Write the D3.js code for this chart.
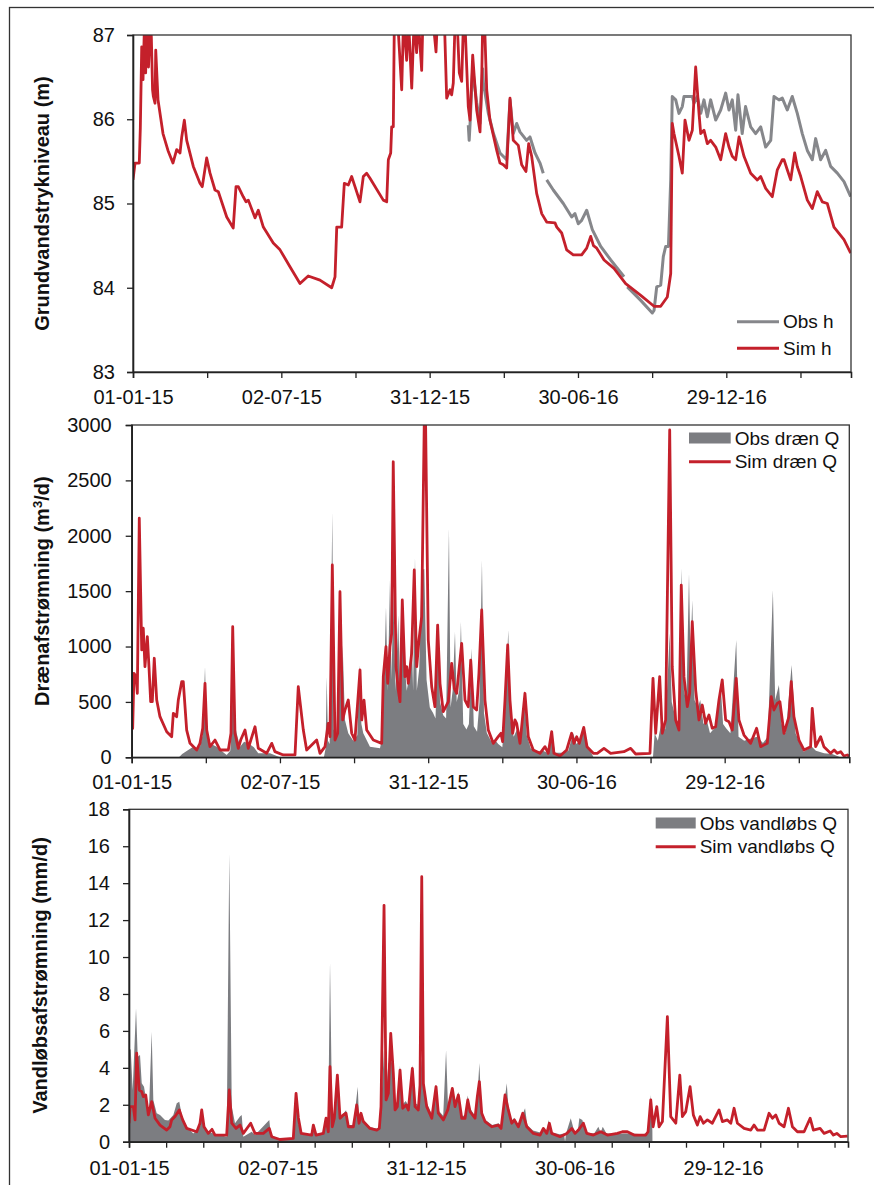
<!DOCTYPE html>
<html><head><meta charset="utf-8">
<script src="https://cdn.jsdelivr.net/npm/d3@7"></script>
<style>
body{margin:0;background:#fff}
svg{display:block}
text{font-family:"Liberation Sans",Arial,Helvetica,sans-serif;fill:#111}
</style>
</head><body>
<svg id="c" width="874" height="1185"></svg>
<script>
// ---- DATA (day = days since 01-01-2015) ----
const xLabelDays = [0, 182, 364, 546, 728];
const xEndDay = 881;

// Panel 1: groundwater head (m)
const hTicks = [83, 84, 85, 86, 87];
const hObs = [[411.4,85.93],[412.5,85.75],[413.5,85.93],[416.8,86.6],[421.7,86.2],[425.8,85.95],[429,86.6],[430,86.43],[436,86.07],[442.3,85.83],[450.3,85.6],[458.5,85.52],[462.6,86.23],[466.6,85.83],[470.8,85.95],[474.8,85.85],[483,85.75],[487.1,85.79],[493.3,85.6],[499.4,85.48],[503.4,85.36],[505,null],[507.6,85.28],[515.7,85.16],[528,85.0],[538.3,84.84],[542.3,84.88],[546.4,84.76],[550.5,84.8],[556.7,84.92],[563.6,84.69],[573.9,84.49],[586.2,84.33],[602.5,84.13],[604.5,null],[606.5,84.01],[623,83.85],[637.2,83.7],[639.3,83.73],[642.6,84.01],[647.5,84.03],[650.7,84.37],[653.6,84.49],[657,84.49],[659.8,85.28],[661.7,86.27],[665.9,86.23],[669.9,86.07],[674,86.15],[676.1,86.27],[682.2,86.27],[686.3,86.27],[688.3,86.19],[692.4,86.27],[696.6,86.07],[700.6,86.23],[704.7,86.03],[708.8,86.23],[715,85.99],[721.1,86.11],[727.2,86.31],[731.3,86.11],[735.3,86.23],[739.5,85.87],[742.3,86.29],[747.5,85.83],[751.6,86.15],[757.9,85.91],[764,85.83],[770.2,85.91],[776.3,85.67],[782.5,85.75],[786.5,86.27],[792.6,86.23],[796.7,86.25],[802.8,86.11],[808.9,86.27],[815.1,86.07],[821.2,85.83],[827.4,85.63],[833.5,85.52],[837.6,85.77],[843.7,85.52],[849.9,85.63],[856,85.44],[864.2,85.36],[872.4,85.26],[880.6,85.08]];
const hSim = [[0,85.28],[2.5,85.48],[7.7,85.48],[9,85.9],[10.7,86.86],[12.3,86.47],[14,87.1],[15.5,86.55],[17,87.1],[19,86.62],[21,87.1],[22.5,86.98],[24,86.35],[25,86.27],[27,86.19],[27.9,86.82],[30.7,86.23],[36.8,85.83],[42.9,85.63],[49,85.48],[53.6,85.64],[57.7,85.6],[59.8,85.79],[63,85.99],[65.9,85.75],[74,85.44],[82.2,85.24],[85,85.2],[90.4,85.54],[94.5,85.36],[100.6,85.16],[104.7,85.14],[115,84.84],[123,84.71],[126.4,85.2],[129.2,85.2],[135.3,85.08],[138.7,85.02],[141.5,85.04],[149.7,84.83],[153.7,84.92],[159.9,84.72],[172.1,84.53],[180.4,84.45],[192.6,84.25],[204.9,84.05],[215,84.14],[229.4,84.09],[243.8,84.0],[247.9,84.13],[250,84.72],[256,84.72],[259.3,85.24],[264.2,85.22],[268.3,85.32],[272.4,85.2],[278.5,85.02],[282.6,85.32],[286.7,85.36],[290.8,85.3],[307.1,85.04],[311.3,85.02],[313.3,85.52],[316.2,85.6],[317.4,85.91],[319.4,85.91],[320.6,87.1],[324,87.3],[329.7,86.35],[332,87.2],[335.8,86.7],[338,87.2],[342,86.37],[345,87.2],[348,86.79],[350,87.2],[354.2,86.58],[356,87.3],[365,87.5],[371.8,86.8],[374,87.3],[382,87.2],[384.9,86.25],[389,86.35],[391,86.29],[393,86.43],[395,87.1],[398,87.1],[400.4,86.55],[403.3,86.45],[405.3,87.1],[407.5,87.1],[411.4,86.15],[413.5,85.99],[416.8,86.76],[421.7,86.11],[425.8,85.85],[427.9,86.5],[429,87.1],[431.5,87.1],[434,86.35],[438,85.99],[446.3,85.63],[450.3,85.48],[454.4,85.46],[458.5,85.42],[462.6,86.25],[466.6,85.75],[472.8,85.69],[476.9,85.46],[482.2,85.38],[485.5,85.71],[489.2,85.56],[495.3,85.12],[501.5,84.88],[507.6,84.78],[517.8,84.77],[520,84.72],[526,84.65],[532.1,84.45],[540.2,84.39],[550.5,84.39],[556.7,84.47],[561.6,84.61],[565,84.5],[569,84.47],[578,84.33],[590.2,84.23],[604.5,84.05],[623,83.91],[639.3,83.78],[647.5,83.78],[655.6,83.89],[659.8,84.17],[661.7,85.95],[663.8,85.83],[669.9,85.56],[674,85.36],[677.3,85.99],[682.2,85.75],[686.3,85.87],[690.4,86.62],[694.5,86.07],[696.6,85.83],[700.6,85.87],[704.7,85.71],[708.8,85.75],[715,85.67],[721.1,85.52],[727.2,85.83],[731.3,85.67],[735.3,85.56],[739.5,85.52],[743.6,85.79],[749.7,85.56],[757.9,85.36],[766,85.28],[770.2,85.32],[776.3,85.18],[784.4,85.08],[790.6,85.4],[796.7,85.52],[798.8,85.52],[802.8,85.4],[807,85.28],[811.9,85.6],[815.1,85.44],[819.3,85.32],[827.4,85.04],[833.5,84.94],[839.6,85.14],[845.8,85.02],[851.9,85.0],[860.1,84.72],[872.4,84.57],[880.6,84.41]];

// Panel 2: drain flow (m3/d)
const drainTicks = [0, 500, 1000, 1500, 2000, 2500, 3000];
const drainObs = [[0,0],[58,0],[62,30],[68,60],[75.6,96],[80,80],[83.8,96],[87,200],[90,818],[92,250],[94,126],[100,110],[104.3,96],[110,60],[116.6,21],[121,60],[123,300],[124.7,1194],[126.5,300],[128.9,217],[133,96],[138,140],[143.1,126],[150,90],[155.4,36],[169.8,36],[182,0],[236,0],[238,80],[239.4,728],[241,150],[243,120],[246.3,2217],[248,250],[252,200],[255.7,1540],[257.5,600],[259,1014],[261.8,337],[265.9,217],[272,150],[277,200],[279.4,833],[282,300],[284.3,217],[292.5,96],[304.8,81],[307,156],[310,728],[312.2,1360],[314.3,600],[317.1,1600],[319,700],[321.1,1500],[324,600],[327.3,1285],[329.5,500],[332.2,1100],[335.5,818],[337.6,600],[340,700],[343.7,1104],[345.5,600],[347.8,1811],[350,600],[353,800],[356,1691],[359.2,1700],[362,700],[366,450],[370,400],[373,350],[376.4,1224],[378.5,500],[382.5,380],[386,350],[389.5,2067],[391.5,450],[394,600],[396.9,1134],[399,500],[402,600],[404.2,1224],[407,300],[411,250],[414,300],[417.4,984],[420,280],[424,230],[427,500],[430,1781],[432.5,400],[436,220],[441,150],[446,156],[450,120],[455,90],[458.3,400],[462.3,1149],[465,337],[469,186],[473,250],[478,200],[482.8,517],[485,200],[490,80],[500,50],[505,60],[510,40],[515.6,217],[520,40],[530,40],[536,60],[542,217],[546,120],[550,150],[555,262],[560,100],[567,0],[640,0],[642,217],[646,150],[650,300],[655,250],[660.5,1120],[663,500],[667.8,350],[671.9,300],[675.2,1706],[678,600],[681,500],[684.2,1661],[686,900],[688.2,1420],[691,517],[695,450],[698,517],[702,300],[706,337],[710,217],[714,250],[718,276],[723,668],[726,300],[730,260],[735,217],[742.2,1059],[745,186],[752,150],[760,170],[768,186],[775,130],[781,186],[787.2,1510],[790,517],[794.6,653],[798,300],[803,217],[810.2,833],[815.1,217],[820,130],[825,50],[835,96],[840,60],[850,36],[860,30],[870,0],[881,0]];
const drainSim = [[0,250],[1.2,262],[2.8,758],[5.3,728],[6.9,578],[9.3,2158],[12.3,969],[14.2,1165],[16.3,818],[19.2,1089],[21.2,818],[23.3,502],[25.3,502],[27.7,894],[30.7,517],[34.7,367],[43,231],[49.1,186],[51.1,397],[55.2,367],[57.2,517],[61.4,683],[63.3,683],[67.5,246],[71.6,126],[79.8,66],[83.8,126],[87.2,262],[90,668],[92.1,246],[96.1,96],[102.3,156],[108.4,66],[118.6,66],[121.9,217],[124,1179],[126.8,217],[130.9,81],[133.8,156],[139.1,246],[143.1,81],[151.4,276],[155.4,81],[165.7,36],[171.9,126],[175.9,51],[186.1,21],[200.5,21],[204.5,637],[210.7,246],[214.8,66],[227.1,156],[231.2,36],[237.3,96],[241.3,307],[243.4,186],[246.3,1736],[249.6,156],[252.9,217],[255.7,1495],[259,337],[261.8,427],[265.9,517],[270.1,217],[274.1,156],[280.3,788],[282.4,337],[285.2,517],[288.5,246],[296.6,156],[306.9,126],[308.9,728],[312.2,999],[314.3,668],[317.1,999],[319.2,1120],[321.1,2668],[324.5,818],[327.3,607],[329.4,502],[332.2,1420],[335.5,728],[337.6,818],[339.6,668],[343.7,939],[346.9,1691],[349.9,818],[352.7,1059],[356,1269],[359.5,3200],[360.5,3200],[364.1,1059],[368.3,637],[372.3,457],[375.6,1194],[378.5,668],[382.5,412],[388.7,502],[392.8,848],[396,623],[399,578],[402.2,818],[405.1,1029],[409.2,517],[413.2,457],[416.2,878],[419.4,457],[423.5,427],[426.3,758],[429.7,1330],[433.7,517],[437.8,246],[443.9,126],[450,186],[453.3,217],[455.4,141],[458.3,517],[461.6,1014],[464.4,517],[467.7,217],[470.5,337],[472.6,307],[476.7,126],[482.8,578],[486.9,186],[493,66],[501.2,36],[507.4,96],[511.4,36],[515.6,231],[518.4,36],[525.8,12],[534,66],[540.1,217],[543,126],[546.3,186],[549.5,126],[555,270],[559,96],[566.7,36],[571.5,36],[579.8,81],[588,36],[604.3,51],[612.6,81],[618.7,30],[636.3,36],[640,713],[643.3,217],[648.2,728],[651.4,217],[655.5,337],[660.5,2955],[663.6,818],[667.8,337],[671.9,246],[674.7,1555],[678,728],[682.1,457],[685,578],[688.2,1224],[692.4,607],[696.4,337],[700.5,472],[704.6,307],[708.7,382],[712.7,262],[716.9,276],[721,517],[725,698],[729.2,337],[733.3,322],[737.3,246],[742.2,713],[745.5,337],[751.7,201],[759.9,126],[767.2,262],[772.2,96],[780.3,126],[785.2,547],[788.5,427],[792.5,487],[795.8,502],[800.8,217],[806.9,367],[809.7,683],[813,367],[819.2,156],[825.3,66],[833.5,96],[835.5,442],[839.7,96],[845.8,186],[849.8,96],[858.1,36],[862.4,66],[866.2,36],[870.4,51],[874.4,12],[878.5,21],[881,10]];

// Panel 3: stream flow (mm/d)
const streamTicks = [0, 2, 4, 6, 8, 10, 12, 14, 16, 18];
const streamObs = [[0,4.97],[2.1,5.0],[4.5,2.8],[8.6,7.22],[10.7,4.6],[13.5,4.69],[15.6,3.16],[18.4,2.98],[21.7,2.08],[24.5,1.72],[27.8,5.96],[29.8,2.26],[33.9,1.54],[38,1.45],[44.1,1.18],[48.2,1.15],[54.3,1.45],[58.5,2.08],[61.6,2.17],[64.6,1.45],[70.7,0.81],[78.8,0.45],[87,0.81],[89.8,1.54],[93.1,0.63],[103.3,0.45],[119.7,0.27],[122.9,15.6],[125.9,1.9],[129.9,1.0],[136,1.36],[138.1,1.45],[140.1,0.27],[150.4,0.54],[154.4,0.36],[171.9,1.18],[173.7,0.4],[181,0.18],[201.3,0.18],[204.3,2.62],[207.5,1.0],[211,0.45],[224,0.4],[226,0.8],[229,0.4],[238,0.5],[241,1.3],[244,0.6],[246.3,9.75],[249,1.0],[252,1.4],[254.5,3.25],[258.6,1.4],[262,1.5],[266,1.7],[269,0.9],[275,0.9],[280.3,2.98],[282,1.1],[284,1.6],[287,1.2],[295,0.8],[304,0.7],[307,0.8],[309,2.0],[312.5,5.0],[315,2.5],[317.8,4.24],[321,4.5],[324,3.9],[326,2.0],[329,2.2],[332,4.1],[335,2.0],[339,2.2],[342,2.0],[347.7,4.15],[350.5,2.1],[354,2.0],[356.6,3.3],[358.7,4.5],[360.7,3.3],[364.8,2.1],[371,1.5],[376,3.1],[379,1.7],[385,1.4],[388.5,4.95],[391,1.8],[396,2.9],[399.5,2.0],[403.6,2.7],[408,1.4],[412,1.4],[415,2.5],[418,1.8],[424,1.4],[427,2.5],[429.3,4.26],[432,1.6],[436,1.2],[445,0.9],[453,1.0],[456,0.8],[462.9,3.16],[465,1.8],[469,1.1],[472,1.3],[477,0.9],[485.3,1.81],[488,0.9],[495,0.6],[504,0.5],[508,0.8],[512,0.5],[513.8,1.18],[518,0.5],[528,0.4],[533,0.45],[534.3,0],[535.5,0.45],[541.3,1.27],[546,0.5],[550,0.6],[551.8,1.27],[555.5,1.18],[560,0.5],[570,0.45],[575.1,0.81],[578,0.5],[580.5,0.81],[585,0.45],[600,0.45],[615,0.45],[630,0.4],[636,0.5],[639.3,2.53],[641.3,0.6],[641.4,0]];
const streamSim = [[0,1.0],[1.2,1.9],[5.3,1.9],[7.4,1.18],[9.4,4.79],[12.6,2.8],[15.6,2.71],[17.5,2.44],[20.5,2.53],[23.7,1.45],[27.8,2.17],[31.9,1.27],[38,0.9],[46.2,0.63],[50.2,0.81],[52.3,1.18],[56.4,1.36],[61.6,1.72],[65.8,1.18],[70.7,0.72],[83,0.54],[87,1.0],[89.1,1.72],[91.9,0.81],[97.2,0.45],[101.7,0.67],[105.4,0.36],[119.7,0.36],[122.9,2.8],[125.9,1.0],[131.1,0.72],[136,0.9],[140.1,0.45],[149.1,1.0],[154.4,0.45],[164.6,0.45],[171.9,0.72],[174.9,0.27],[185,0.12],[201.3,0.18],[204.7,2.62],[207.5,1.3],[211,0.45],[223.9,0.36],[225.9,0.9],[229.2,0.36],[238.1,0.45],[241.4,1.27],[244.2,0.54],[246.3,4.06],[249.1,0.81],[251.6,1.27],[255.3,3.61],[258.6,1.27],[262.6,1.45],[265.9,1.54],[268.8,0.81],[274.9,0.81],[279,1.99],[281.9,1.0],[284.3,1.54],[287.1,1.09],[295.3,0.72],[303.6,0.63],[306.7,0.72],[308.8,1.9],[312.5,12.8],[315,2.26],[317.8,2.62],[320.7,5.87],[323.9,3.7],[326,1.72],[328.8,1.9],[332.1,3.88],[335.4,1.81],[339.5,1.99],[342.3,1.72],[347.2,3.97],[350.5,1.9],[354.5,1.72],[356.6,3.07],[358.7,14.35],[360.7,3.16],[364.8,1.9],[371,1.27],[376.2,2.98],[379,1.54],[385.2,1.18],[390.6,1.72],[396.2,2.89],[399.5,1.9],[403.6,2.53],[407.7,1.27],[411.8,1.27],[415.1,2.26],[417.9,1.63],[424,1.27],[426.8,2.44],[429.3,3.25],[432.2,1.54],[436.3,1.09],[444.5,0.81],[452.6,0.9],[455.9,0.72],[460.8,2.53],[464.8,1.72],[469,1.0],[472.2,1.18],[477.1,0.81],[482.5,1.54],[487.4,0.81],[495.5,0.45],[503.7,0.36],[507.7,0.72],[511.9,0.45],[515.1,1.0],[518,0.45],[528.2,0.27],[536.4,0.45],[542.5,0.72],[546.6,0.45],[550.6,0.63],[556.7,1.0],[560.9,0.45],[569,0.36],[578.1,0.54],[586.2,0.36],[598.4,0.45],[604.5,0.54],[610.7,0.54],[618.9,0.36],[633.2,0.36],[636,0.54],[639.3,2.26],[642.2,0.81],[646.7,1.9],[649.5,0.81],[653.6,1.09],[659.7,6.77],[663.8,1.36],[670,1.0],[674.9,3.61],[678.1,1.36],[682.2,1.63],[687.5,2.98],[691.5,1.45],[696.4,0.9],[699.8,1.36],[703.8,1.0],[708.7,1.18],[714.8,1.0],[723,1.72],[727.1,1.09],[733.2,1.18],[737.4,1.0],[741.4,1.81],[745.5,1.0],[753.7,0.72],[761.9,0.63],[765.9,0.9],[770,0.63],[778.2,0.63],[784.3,1.54],[788.4,1.27],[792.5,1.45],[796.6,1.0],[802.7,0.81],[808,1.81],[812.9,0.81],[819,0.54],[827.2,0.54],[834.6,1.27],[838.6,0.63],[846.8,0.72],[851.7,0.45],[859.1,0.58],[863.1,0.36],[867.3,0.45],[872.2,0.27],[880.3,0.3]];

// ---- DRAWING ----
const RED = "#c4202b", GREYLINE = "#86878b", GREYFILL = "#7c7d81";
const FONT = '"Liberation Sans", Arial, Helvetica, sans-serif';
const svg = d3.select("#c");
svg.append("rect").attr("x",9.5).attr("y",7.5).attr("width",1000).attr("height",1400)
  .attr("fill","none").attr("stroke","#333").attr("stroke-width",1.3);

const day0 = Date.UTC(2015,0,1);
const toDate = d => new Date(day0 + d*864e5);
const dayOf = dt => (dt.getTime() - day0)/864e5;
const fmt = d3.utcFormat("%d-%m-%y");

function panel(cfg) {
  const b = cfg.box;
  const x = d3.scaleUtc().domain([toDate(0), toDate(xEndDay)]).range([b.l, b.r]);
  const y = d3.scaleLinear().domain([cfg.ticks[0], cfg.ticks[cfg.ticks.length-1]]).range([b.b, b.t]);
  const cid = "clip" + cfg.id;
  svg.append("clipPath").attr("id", cid).append("rect")
    .attr("x", b.l).attr("y", b.t).attr("width", b.r - b.l).attr("height", b.b - b.t);
  const g = svg.append("g").attr("clip-path", `url(#${cid})`);
  const def = d => d[1] != null;
  if (cfg.obsType === "area") {
    g.append("path").datum(cfg.obs)
      .attr("d", d3.area().defined(def).x(d => x(toDate(d[0]))).y0(y(0)).y1(d => y(d[1])))
      .attr("fill", GREYFILL);
  } else {
    g.append("path").datum(cfg.obs)
      .attr("d", d3.line().defined(def).x(d => x(toDate(d[0]))).y(d => y(d[1])))
      .attr("fill", "none").attr("stroke", GREYLINE).attr("stroke-width", 3).attr("stroke-linejoin","round");
  }
  g.append("path").datum(cfg.sim)
    .attr("d", d3.line().defined(def).x(d => x(toDate(d[0]))).y(d => y(d[1])))
    .attr("fill", "none").attr("stroke", RED).attr("stroke-width", 2.8).attr("stroke-linejoin","round");

  // frame
  svg.append("rect").attr("x", b.l).attr("y", b.t).attr("width", b.r - b.l).attr("height", b.b - b.t)
    .attr("fill","none").attr("stroke","#333").attr("stroke-width",1.3);

  // x axis
  const tv = [];
  for (let d = 0; d < xEndDay; d += cfg.xStep) tv.push(toDate(d));
  const xa = svg.append("g").attr("transform", `translate(0,${b.b})`)
    .call(d3.axisBottom(x).tickValues(tv).tickSizeOuter(0).tickSize(6)
      .tickFormat(dt => { const dd = dayOf(dt); return xLabelDays.some(v => Math.abs(v - dd) < 0.01) ? fmt(dt) : ""; }));
  xa.selectAll("text").attr("y", cfg.xLabY).attr("font-size", 20).attr("font-family", FONT).attr("fill","#111");
  // y axis
  const ya = svg.append("g").attr("transform", `translate(${b.l},0)`)
    .call(d3.axisLeft(y).tickValues(cfg.ticks).tickSizeOuter(0).tickSize(6).tickFormat(d3.format("d")));
  ya.selectAll("text").attr("x", cfg.yLabX).attr("font-size", 20).attr("font-family", FONT).attr("fill","#111");
  [xa, ya].forEach(a => {
    a.select(".domain").attr("stroke","#222").attr("stroke-width",1.6);
    a.selectAll(".tick line").attr("stroke","#222").attr("stroke-width",1.3);
  });

  // title
  const t = svg.append("text").attr("transform", `translate(${cfg.title.x},${(b.t+b.b)/2}) rotate(-90)`)
    .attr("text-anchor","middle").attr("dy","0.35em").attr("font-size",20).attr("font-weight","bold");
  cfg.title.parts.forEach(p => {
    const s = t.append("tspan").text(p.t);
    if (p.sup) s.attr("baseline-shift","super").attr("font-size",13);
  });

  // legend
  const L = cfg.legend;
  if (cfg.obsType === "area") {
    svg.append("rect").attr("x", L.x0).attr("y", L.y1 - 5.5).attr("width", L.x1 - L.x0).attr("height", 11).attr("fill", GREYFILL);
  } else {
    svg.append("line").attr("x1", L.x0).attr("x2", L.x1).attr("y1", L.y1).attr("y2", L.y1)
      .attr("stroke", GREYLINE).attr("stroke-width", 3);
  }
  svg.append("line").attr("x1", L.x0).attr("x2", L.x1).attr("y1", L.y2).attr("y2", L.y2)
    .attr("stroke", RED).attr("stroke-width", 3);
  svg.append("text").attr("x", L.x1 + 4).attr("y", L.y1).attr("dy","0.35em").attr("font-size",19).text(L.obs);
  svg.append("text").attr("x", L.x1 + 4).attr("y", L.y2).attr("dy","0.35em").attr("font-size",19).text(L.sim);
}

panel({id:1, box:{l:133,r:851,t:35,b:372}, ticks:hTicks, obs:hObs, sim:hSim, obsType:"line",
  xStep:91, xLabY:18, yLabX:-18,
  title:{x:42, parts:[{t:"Grundvandstrykniveau (m)"}]},
  legend:{x0:737, x1:779, y1:321.7, y2:348.3, obs:"Obs h", sim:"Sim h"}});

panel({id:2, box:{l:131.7,r:849.3,t:425,b:757.3}, ticks:drainTicks, obs:drainObs, sim:drainSim, obsType:"area",
  xStep:91, xLabY:18, yLabX:-20,
  title:{x:42, parts:[{t:"Drænafstrømning (m"},{t:"3",sup:true},{t:"/d)"}]},
  legend:{x0:689, x1:730.7, y1:438, y2:461.7, obs:"Obs dræn Q", sim:"Sim dræn Q"}});

panel({id:3, box:{l:129,r:848,t:809.3,b:1141.7}, ticks:streamTicks, obs:streamObs, sim:streamSim, obsType:"area",
  xStep:45.5, xLabY:19, yLabX:-19,
  title:{x:40, parts:[{t:"Vandløbsafstrømning (mm/d)"}]},
  legend:{x0:655.7, x1:695.7, y1:823, y2:846.7, obs:"Obs vandløbs Q", sim:"Sim vandløbs Q"}});
</script>
</body></html>
